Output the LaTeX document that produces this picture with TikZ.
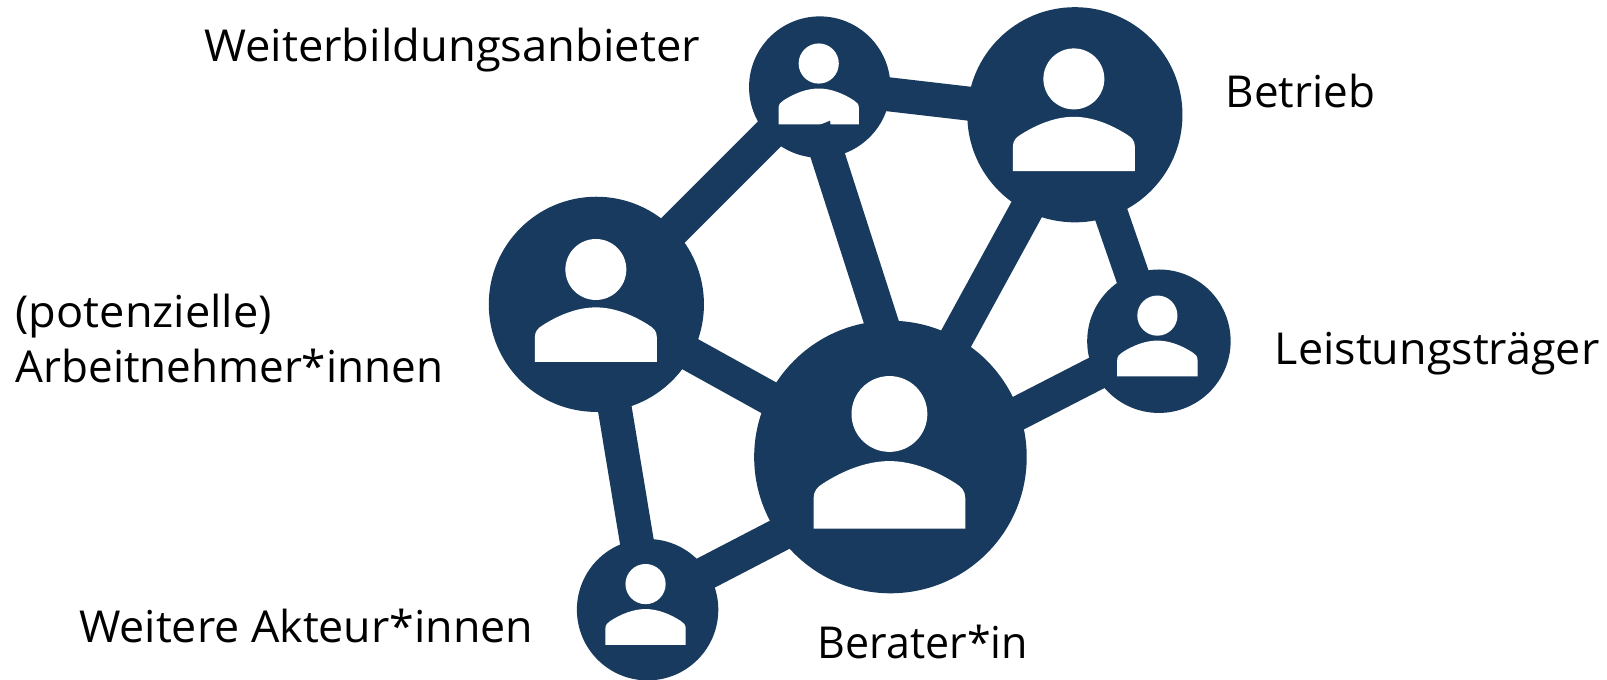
\documentclass[tikz,border=0pt]{standalone}
\usepackage{graphicx}
\usepackage{fontspec}
\setmainfont{Open Sans}
\definecolor{navy}{RGB}{23,58,94}
\newcommand{\fitw}[2]{\scalebox{#1}[1]{#2}}
\tikzset{
  x=1.0247pt,y=-1.0247pt,
  hub/.style={circle,fill=navy,inner sep=0pt,minimum size=#1*2.0494pt},
  link/.style={draw=navy,line width=34pt,shorten >=-12pt,shorten <=-12pt},
  lab/.style={anchor=base west,inner sep=0pt,font=\fontsize{44}{44}\selectfont,text=black},
  person/.pic={
    \fill[white] (0,0) circle (37);
    \fill[white] (-74,112) -- (-74,82) .. controls (-74,75) and (-70,71) .. (-65,68)
      .. controls (-45,55) and (-22,46) .. (0,46)
      .. controls (22,46) and (45,55) .. (65,68)
      .. controls (70,71) and (74,75) .. (74,82) -- (74,112) -- cycle;
  }
}
\begin{document}
\begin{tikzpicture}
\useasboundingbox (0,0) rectangle (1568.3,663.6);
\node[hub=69] (A) at (800,85) {};
\node[hub=105] (B) at (1049,112) {};
\node[hub=70] (C) at (1131,333) {};
\node[hub=133] (D) at (869,446) {};
\node[hub=105] (E) at (582,297) {};
\node[hub=69] (F) at (632,595) {};
\draw[link] (A.223.8) -- (E.44.2);
\draw[link] (A.-6.1) -- (B.174.5);
\draw[link] (A.-83) -- (D.94.5);
\draw[link] (B.-117.5) -- (D.61.6);
\draw[link] (B.-70.3) -- (C.112.6);
\draw[link] (C.207.3) -- (D.19.1);
\draw[link] (D.154.3) -- (E.-28.3);
\draw[link] (E.-80.6) -- (F.99.3);
\draw[link] (F.32) -- (D.215.1);
\pic[scale=.53] at (799,62) {person};
\pic[scale=.804] at (1048,77) {person};
\pic[scale=.53] at (1129.5,308) {person};
\pic[scale=1] at (868,404) {person};
\pic[scale=.804] at (581.5,263) {person};
\pic[scale=.53] at (630,570) {person};
\fill[navy] (798.6,122.5) -- (810,117.8) -- (810.7,122.5) -- cycle;
\node[lab] (t1) at (199,60) {\fitw{1.03}{Weiterbildungsanbieter}};
\node[lab] (t2) at (1196,105) {Betrieb};
\node[lab] (t3) at (1244,356) {\fitw{1.02}{Leistungsträger}};
\node[lab] (t4) at (15,320) {\fitw{1.025}{(potenzielle)}};
\node[lab] (t5) at (15,373) {Arbeitnehmer*innen};
\node[lab] (t6) at (77,627) {\fitw{1.018}{Weitere Akteur*innen}};
\node[lab] (t7) at (798,643) {\fitw{.976}{Berater*in}};
\end{tikzpicture}
\end{document}
